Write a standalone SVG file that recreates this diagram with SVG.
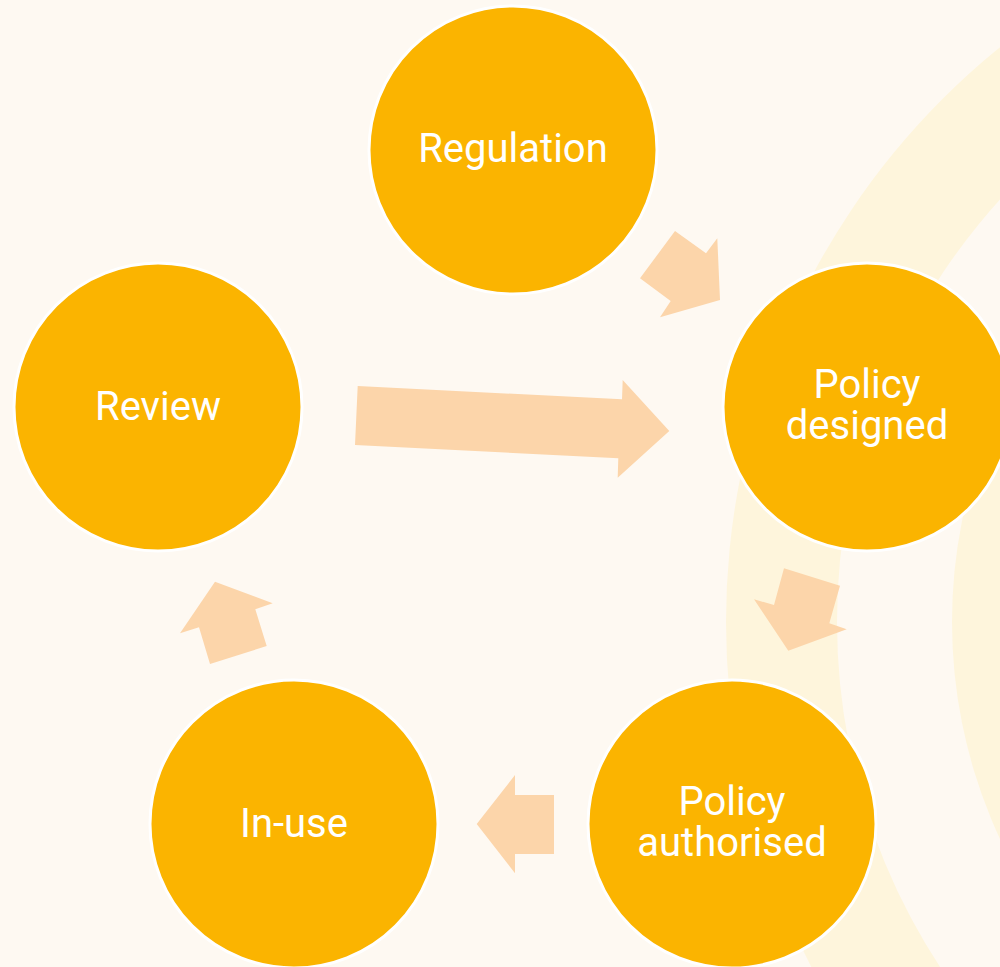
<svg xmlns="http://www.w3.org/2000/svg" width="1000" height="967" viewBox="0 0 1000 967">
  <style>
    .node { fill: #FBB400; stroke: #FFFFFF; stroke-width: 3; }
    .label { font-family: Roboto, "Liberation Sans", sans-serif; font-size: 40px; fill: #FFFFFF; text-anchor: middle; }
    .arrow { fill: #FCD5AA; stroke: none; }
    .ring { fill: #FEF5DC; }
  </style>
  <rect x="0" y="0" width="1000" height="967" fill="#FEF9F2"/>
  <g id="background">
    <path class="ring" fill-rule="evenodd" d="M 726 622 A 740 740 0 1 0 2206 622 A 740 740 0 1 0 726 622 Z M 837 622 A 629 629 0 1 0 2095 622 A 629 629 0 1 0 837 622 Z"/>
    <circle class="ring" cx="1466" cy="622" r="514"/>
  </g>
  <g id="connectors">
    <polygon class="arrow" points="675,231 706,253.3 717.3,238.3 720,300 660,317.3 670.7,301 640,278.3"/>
    <polygon class="arrow" points="357.7,386 622,399.3 622.7,380 669.3,431 617.7,477.7 618.3,458.3 355,445"/>
    <polygon class="arrow" points="784,568.3 840,585.7 829.3,623.3 846.7,629.3 788.3,650.7 754,599.3 774,605"/>
    <polygon class="arrow" points="515,775 515,795 554,795 554,854 515,854 515,873.3 476.7,824"/>
    <polygon class="arrow" points="215,581.7 272.7,603.3 255.3,609.3 266.7,646 210,664 199,627.3 180,633.3"/>
  </g>
  <g id="regulation">
    <circle class="node" cx="513" cy="150" r="144"/>
    <text class="label" x="513" y="162">Regulation</text>
  </g>
  <g id="policy-designed">
    <circle class="node" cx="867" cy="407" r="144"/>
    <text class="label" x="867" y="398">Policy</text>
    <text class="label" x="867" y="439">designed</text>
  </g>
  <g id="policy-authorised">
    <circle class="node" cx="732" cy="824" r="144"/>
    <text class="label" x="732" y="815">Policy</text>
    <text class="label" x="732" y="856">authorised</text>
  </g>
  <g id="in-use">
    <circle class="node" cx="294" cy="824" r="144"/>
    <text class="label" x="294" y="837">In-use</text>
  </g>
  <g id="review">
    <circle class="node" cx="158" cy="407" r="144"/>
    <text class="label" x="158" y="420">Review</text>
  </g>
</svg>
